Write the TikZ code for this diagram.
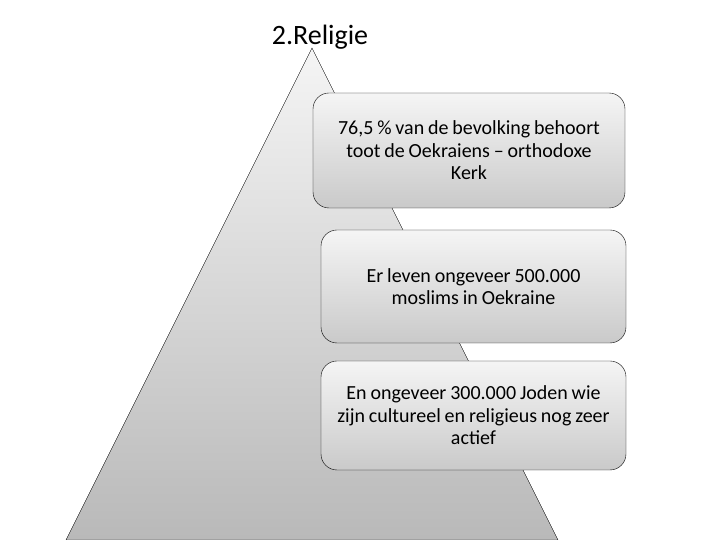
\documentclass[tikz,border=0pt]{standalone}
\usepackage{fontspec}
\setmainfont{Carlito}[WordSpace=0.85]
\usepackage{tikz}
\usetikzlibrary{positioning}

\begin{document}
\begin{tikzpicture}[x=1pt, y=1pt,
    infobox/.style={rectangle, draw, rounded corners=16pt, top color=gray!8, bottom color=gray!42,
      align=center, font=\fontsize{20}{22.5}\selectfont, inner sep=0pt}]
    \useasboundingbox (0,0) rectangle (720,540);
    % Pyramid
    \coordinate (apex) at (312,492);
    \coordinate (baseL) at (66,0);
    \coordinate (baseR) at (558,0);
    \shade [draw, top color=gray!8, bottom color=gray!55] (apex) -- (baseR) -- (baseL) -- cycle;

    % Title
    \node [font=\fontsize{28}{30}\selectfont] (title) at (320,503) {2.Religie};

    % Boxes
    \node [infobox, minimum width=312pt, minimum height=115pt] (kerk) at (469,389.5)
      {76,5 \% van de bevolking behoort\\ toot de Oekraiens – orthodoxe\\ Kerk};
    \node [infobox, minimum width=305pt, minimum height=113pt] (moslims) at (473.5,253.5)
      {Er leven ongeveer 500.000\\ moslims in Oekraine};
    \node [infobox, minimum width=305pt, minimum height=109pt] (joden) at (473.5,124.5)
      {En ongeveer 300.000 Joden wie\\ zijn cultureel en religieus nog zeer\\ actief};
\end{tikzpicture}
\end{document}
